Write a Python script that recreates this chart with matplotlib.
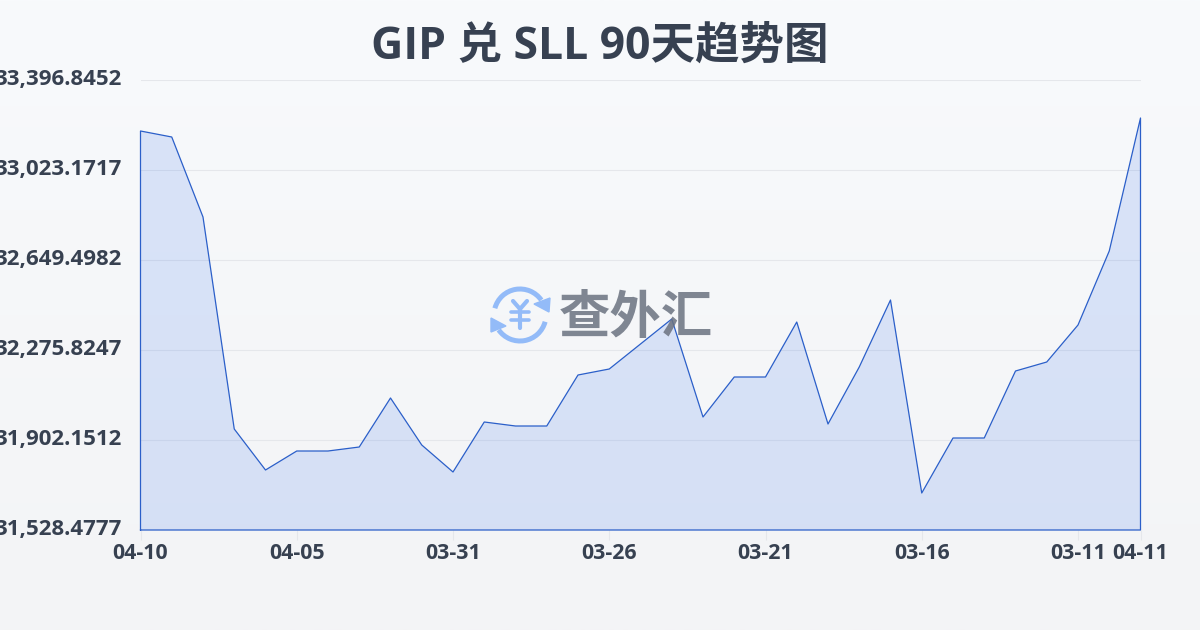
import numpy as np
import matplotlib
matplotlib.use("Agg")
import matplotlib.pyplot as plt
from matplotlib.colors import LinearSegmentedColormap
from matplotlib.patches import Arc, Polygon

plt.rcParams['font.family'] = ['Open Sans', 'Noto Sans CJK SC', 'DejaVu Sans']

TITLE = "GIP 兑 SLL 90天趋势图"
WATERMARK = "查外汇"
values = [33185.10, 33160.19, 32828.03, 31947.82, 31777.59, 31856.48, 31856.48, 31873.09,
          32076.53, 31881.39, 31769.29, 31976.89, 31960.28, 31960.28, 32172.03, 32196.94,
          32300.74, 32404.54, 31997.65, 32163.73, 32163.73, 32392.08, 31968.58, 32205.24,
          32483.42, 31682.10, 31910.46, 31910.46, 32188.64, 32226.00, 32379.63, 32686.87,
          33239.08]
y_ticks = [31528.4777, 31902.1512, 32275.8247, 32649.4982, 33023.1717, 33396.8452]
x_tick_pos = [0, 5, 10, 15, 20, 25, 30, 32]
x_tick_labels = ["04-10", "04-05", "03-31", "03-26", "03-21", "03-16", "03-11", "04-11"]

W, H = 1200, 630
fig = plt.figure(figsize=(W / 100, H / 100), dpi=100)

bg = fig.add_axes([0, 0, 1, 1], zorder=0)
cmap = LinearSegmentedColormap.from_list("bg", ["#f8fafc", "#f3f4f6"])
bg.imshow(np.linspace(0, 1, 256)[:, None], aspect="auto", cmap=cmap, extent=[0, W, H, 0])
bg.set_xlim(0, W); bg.set_ylim(H, 0); bg.axis("off")

ax = fig.add_axes([140.5 / W, 1 - 530 / H, 1000 / W, 450 / H], zorder=1)
ax.patch.set_alpha(0)
x = np.arange(len(values))
ax.set_xlim(0, len(values) - 1)
ax.set_ylim(y_ticks[0], y_ticks[-1])
ax.set_yticks(y_ticks)
ax.set_yticklabels([])
ax.set_xticks(x_tick_pos)
ax.set_xticklabels(x_tick_labels, fontsize=15.4, fontweight="bold", color="#374151")
ax.tick_params(axis="y", length=0)
ax.tick_params(axis="x", length=7, width=0.8, color="#e5e7eb", pad=2.6)
ax.grid(axis="y", color="#e5e7eb", linewidth=0.8)
ax.set_axisbelow(True)
for s in ax.spines.values():
    s.set_visible(False)
ax.fill_between(x, values, y_ticks[0], facecolor="#2563eb", alpha=0.14, linewidth=0, zorder=2)
ax.plot(np.r_[x[0], x, x[-1], x[0]], np.r_[y_ticks[0], values, y_ticks[0], y_ticks[0]],
        color="#2b5fc9", linewidth=0.9, zorder=3, clip_on=False)
for v in y_ticks:
    ax.annotate(f"{v:,.4f}", xy=(0, v), xycoords=("axes fraction", "data"), xytext=(-13.4, 0.4),
                textcoords="offset points", ha="right", va="center", annotation_clip=False,
                fontsize=16, fontweight="bold", color="#374151")

ov = fig.add_axes([0, 0, 1, 1], zorder=2)
ov.set_xlim(0, W); ov.set_ylim(H, 0); ov.axis("off"); ov.patch.set_alpha(0)
ov.text(600, 47, TITLE, ha="center", va="center", fontsize=32, fontweight="bold", color="#374151")
ov.text(636, 320, WATERMARK, ha="center", va="center", fontsize=37, fontweight="bold",
        color="#6b7280", alpha=0.85, zorder=1)
blue = "#93bbf8"
cx, cy, r = 520, 315, 26
ov.add_patch(Arc((cx, cy), 2 * r, 2 * r, theta1=195, theta2=325, color=blue, lw=3.6, zorder=2))
ov.add_patch(Arc((cx, cy), 2 * r, 2 * r, theta1=15, theta2=145, color=blue, lw=3.6, zorder=2))
ov.add_patch(Polygon([(550, 298), (549, 312), (534, 304)], color=blue, zorder=2))
ov.add_patch(Polygon([(491, 332), (491, 318), (506, 326)], color=blue, zorder=2))
ov.plot([513, 520, 527], [301, 309, 301], color=blue, lw=3, solid_capstyle="round", zorder=2)
ov.plot([520, 520], [309, 328], color=blue, lw=3, solid_capstyle="round", zorder=2)
ov.plot([511, 529], [312, 312], color=blue, lw=2.6, solid_capstyle="round", zorder=2)
ov.plot([511, 529], [320, 320], color=blue, lw=2.6, solid_capstyle="round", zorder=2)

fig.savefig("out.png", dpi=100)
